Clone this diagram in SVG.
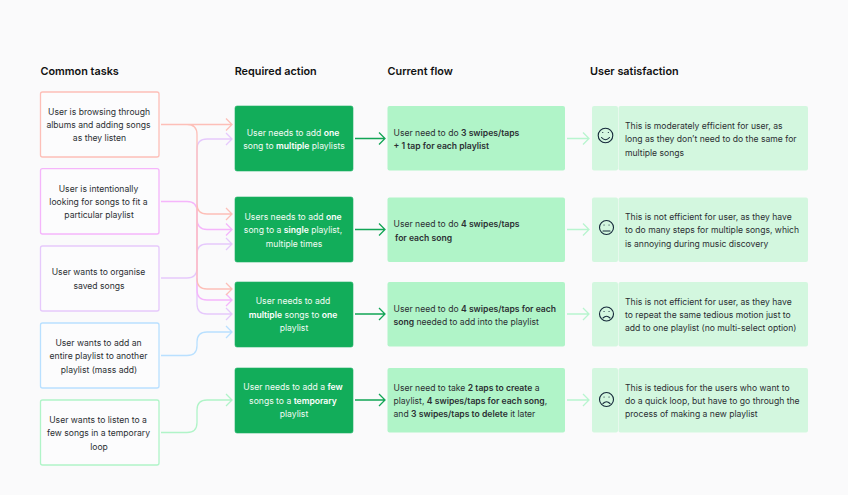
<svg xmlns="http://www.w3.org/2000/svg" width="848" height="495" viewBox="0 0 848 495">
<style>
text{font-family:Inter,"Liberation Sans",sans-serif;font-size:8.6px;fill:#2b2f33}
.h{font-size:10.85px;font-weight:600;fill:#111}
.m{text-anchor:middle}
.w{fill:#f2fbf5}
.b{font-weight:600}
.w .b{fill:#fff}
.t{fill:#fcfcfd;stroke-width:1.3}
.c{fill:none;stroke-width:1.3}
.a{fill:#12ad5a;stroke:#1fb466;stroke-width:.6}
.f{fill:#b0f4c8}
.s{fill:#d3f7df}
.e{fill:none;stroke:#15293a;stroke-width:1.1;stroke-linecap:round}
</style>
<rect width="848" height="495" fill="#fafafb"/>
<g id="headers">
<text class="h" x="40.500" y="75">Common tasks</text>
<text class="h" x="234.700" y="75">Required action</text>
<text class="h" x="387.500" y="75">Current flow</text>
<text class="h" x="590" y="75">User satisfaction</text>
</g>
<g id="connectors" class="c">
<path stroke="#e6c9fc" d="M161 278H187Q197 278 197 268V149Q197 139 207 139H232M226 133l6 6-6 6M197 268V254Q197 244 207 244H232M226 238l6 6-6 6M197 278V304Q197 314 207 314H232M226 308l6 6-6 6"/>
<path stroke="#f5b5fb" d="M161 201.500H187Q197 201.500 197 211.500V219Q197 229.500 207 229.500H232M226 223.500l6 6-6 6M197 219V290Q197 300 207 300H232M226 294l6 6-6 6"/>
<path stroke="#fdbfb8" d="M161 124.500H232M226 118.500l6 6-6 6M187 124.500Q197 124.500 197 134.500V204Q197 214 207 214H232M226 208l6 6-6 6M197 204V279Q197 289 207 289H232M226 283l6 6-6 6"/>
<path stroke="#b9e0ff" d="M161 355.500H187Q197 355.500 197 345.500V342Q197 332 207 332H232M226 326l6 6-6 6"/>
<path stroke="#b0f4c8" d="M161 432.500H187Q197 432.500 197 422.500V410Q197 400 207 400H232M226 394l6 6-6 6"/>
<path stroke="#12a556" d="M355 138.500H385M379 132.500l6 6-6 6M355 229.500H385M379 223.500l6 6-6 6M355 314H385M379 308l6 6-6 6M355 400H385M379 394l6 6-6 6"/>
<path stroke="#b8f5cf" d="M567 138.500H589M583 132.500l6 6-6 6M567 229.500H589M583 223.500l6 6-6 6M567 314H589M583 308l6 6-6 6M567 400H589M583 394l6 6-6 6"/>
</g>
<g id="task1"><rect class="t" x="40.500" y="92" width="118.500" height="65" rx="2" stroke="#fdbfb8"/><text class="m" x="99" y="114.500">User is browsing through</text><text class="m" x="98.500" y="128">albums and adding songs</text><text class="m" x="99.500" y="141">as they listen</text></g>
<g id="task2"><rect class="t" x="40.500" y="168.700" width="118.500" height="65.300" rx="2" stroke="#f5b5fb"/><text class="m" x="98.500" y="191.500">User is intentionally</text><text class="m" x="98.500" y="205">looking for songs to fit a</text><text class="m" x="99" y="218">particular playlist</text></g>
<g id="task3"><rect class="t" x="40.500" y="246" width="118.500" height="65" rx="2" stroke="#e6c9fc"/><text class="m" x="98.500" y="275">User wants to organise</text><text class="m" x="99" y="289">saved songs</text></g>
<g id="task4"><rect class="t" x="40.500" y="323" width="118.500" height="65" rx="2" stroke="#b9e0ff"/><text class="m" x="98.500" y="346">User wants to add an</text><text class="m" x="98.500" y="359">entire playlist to another</text><text class="m" x="99" y="373">playlist (mass add)</text></g>
<g id="task5"><rect class="t" x="40.500" y="400" width="118.500" height="65" rx="2" stroke="#b0f4c8"/><text class="m" x="98" y="423">User wants to listen to a</text><text class="m" x="98.500" y="436">few songs in a temporary</text><text class="m" x="99" y="450">loop</text></g>
<g id="action1"><rect class="a" x="235" y="106" width="118" height="65" rx="2"/><text class="m w" x="293" y="135.500">User needs to add <tspan class="b">one</tspan></text><text class="m w" x="294" y="149">song to <tspan class="b">multiple</tspan> playlists</text></g>
<g id="action2"><rect class="a" x="235" y="197" width="118" height="65" rx="2"/><text class="m w" x="293" y="220">Users needs to add <tspan class="b">one</tspan></text><text class="m w" x="293" y="233">song to a <tspan class="b">single</tspan> playlist,</text><text class="m w" x="294" y="247">multiple times</text></g>
<g id="action3"><rect class="a" x="235" y="282" width="118" height="65" rx="2"/><text class="m w" x="293" y="304">User needs to add</text><text class="m w" x="293" y="318"><tspan class="b">multiple</tspan> songs to <tspan class="b">one</tspan></text><text class="m w" x="294" y="331">playlist</text></g>
<g id="action4"><rect class="a" x="235" y="368" width="118" height="65" rx="2"/><text class="m w" x="293" y="390">User needs to add a <tspan class="b">few</tspan></text><text class="m w" x="293" y="404">songs to a <tspan class="b">temporary</tspan></text><text class="m w" x="294" y="417">playlist</text></g>
<g id="flow1"><rect class="f" x="387.500" y="106" width="177.500" height="64.500" rx="2"/><text x="393.500" y="135.500">User need to do <tspan class="b">3 swipes/taps</tspan></text><text class="b" x="393.500" y="149">+ 1 tap for each playlist</text></g>
<g id="flow2"><rect class="f" x="387.500" y="197.500" width="177.500" height="64.500" rx="2"/><text x="393.500" y="227">User need to do <tspan class="b">4 swipes/taps</tspan></text><text class="b" x="395" y="240.500">for each song</text></g>
<g id="flow3"><rect class="f" x="387.500" y="282" width="177.500" height="64.500" rx="2"/><text x="393.500" y="311.500">User need to do <tspan class="b">4 swipes/taps for each</tspan></text><text x="393.500" y="324.500"><tspan class="b">song</tspan> needed to add into the playlist</text></g>
<g id="flow4"><rect class="f" x="387.500" y="368" width="177.500" height="64.500" rx="2"/><text x="393.500" y="390.500">User need to take <tspan class="b">2 taps to create</tspan> a</text><text x="393.500" y="404">playlist, <tspan class="b">4 swipes/taps for each song</tspan>,</text><text x="393.500" y="417">and <tspan class="b">3 swipes/taps to delete</tspan> it later</text></g>
<g id="sat1"><rect class="s" x="592" y="106" width="26" height="64.500" rx="2"/><rect class="s" x="618.500" y="106" width="189.500" height="64.500" rx="2"/><circle class="e" cx="605.500" cy="135.500" r="7.300"/><path class="e" d="M601.500 137.500Q605.500 142 609.500 137.500M602.700 132.500h.1M608.300 132.500h.1"/><text x="625" y="129">This is moderately efficient for user, as</text><text x="625" y="142">long as they don’t need to do the same for</text><text x="625" y="155.500">multiple songs</text></g>
<g id="sat2"><rect class="s" x="592" y="197.500" width="26" height="64.500" rx="2"/><rect class="s" x="618.500" y="197.500" width="189.500" height="64.500" rx="2"/><circle class="e" cx="606.500" cy="227.500" r="7"/><path class="e" d="M603 231h7M604 225h.1M609 225h.1"/><text x="625" y="220">This is not efficient for user, as they have</text><text x="625" y="233">to do many steps for multiple songs, which</text><text x="625" y="247">is annoying during music discovery</text></g>
<g id="sat3"><rect class="s" x="592" y="282" width="26" height="64.500" rx="2"/><rect class="s" x="618.500" y="282" width="189.500" height="64.500" rx="2"/><circle class="e" cx="606.500" cy="314" r="7"/><path class="e" d="M603 318Q606.500 314.500 610 318M604 311.500h.1M609 311.500h.1"/><text x="625" y="304.500">This is not efficient for user, as they have</text><text x="625" y="318">to repeat the same tedious motion just to</text><text x="625" y="331">add to one playlist (no multi-select option)</text></g>
<g id="sat4"><rect class="s" x="592" y="368" width="26" height="64.500" rx="2"/><rect class="s" x="618.500" y="368" width="189.500" height="64.500" rx="2"/><circle class="e" cx="606.500" cy="399.500" r="7"/><path class="e" d="M603 403.500Q606.500 400 610 403.500M604 397h.1M609 397h.1"/><text x="625" y="390.500">This is tedious for the users who want to</text><text x="625" y="404">do a quick loop, but have to go through the</text><text x="625" y="417">process of making a new playlist</text></g>
</svg>
